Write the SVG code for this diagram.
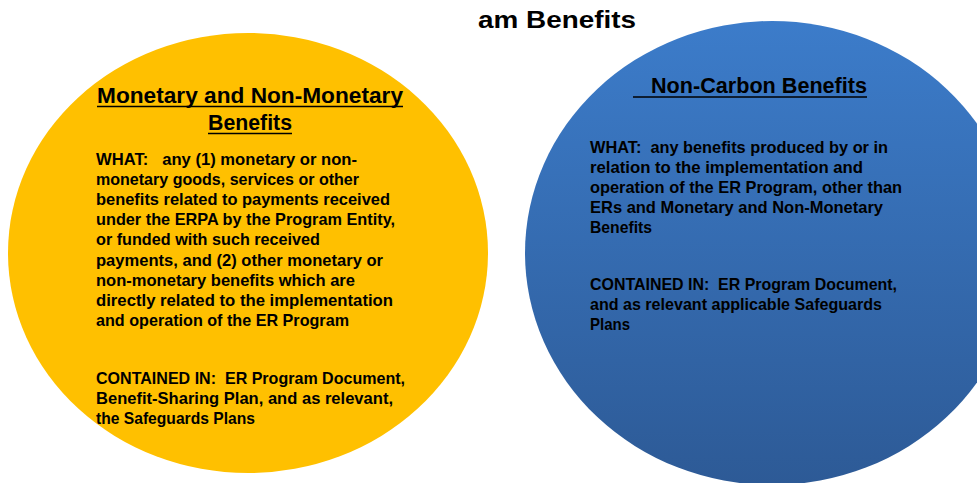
<svg xmlns="http://www.w3.org/2000/svg" width="977" height="483" viewBox="0 0 977 483">
<style>
text{font-family:"Liberation Sans",Arial,sans-serif;font-weight:bold;fill:#000}
.t{font-size:24px}
.h{font-size:22px}
.b{font-size:16.5px}
.ul{stroke:#000;stroke-width:1.5}
</style>
<defs>
<linearGradient id="blueGrad" x1="0" y1="0" x2="0" y2="1">
<stop offset="0" stop-color="#3C7CCA"/>
<stop offset="1" stop-color="#2D5A96"/>
</linearGradient>
</defs>
<rect width="977" height="483" fill="#fff"/>
<text id="title" class="t" x="478" y="28" textLength="158" lengthAdjust="spacingAndGlyphs">am Benefits</text>
<g id="monetary">
<ellipse cx="248" cy="253" rx="240" ry="220" fill="#FFC000"/>
<text class="h" x="97" y="103" textLength="306" lengthAdjust="spacingAndGlyphs">Monetary and Non-Monetary</text>
<line class="ul" x1="97" y1="106.5" x2="403" y2="106.5"/>
<text class="h" x="208" y="130" textLength="84" lengthAdjust="spacingAndGlyphs">Benefits</text>
<line class="ul" x1="208" y1="133.5" x2="292" y2="133.5"/>
<text class="b" x="96" y="165" textLength="261" lengthAdjust="spacingAndGlyphs" xml:space="preserve">WHAT:   any (1) monetary or non-</text>
<text class="b" x="96" y="185" textLength="263" lengthAdjust="spacingAndGlyphs">monetary goods, services or other</text>
<text class="b" x="96" y="205" textLength="294" lengthAdjust="spacingAndGlyphs">benefits related to payments received</text>
<text class="b" x="96" y="225" textLength="299" lengthAdjust="spacingAndGlyphs">under the ERPA by the Program Entity,</text>
<text class="b" x="96" y="245" textLength="224" lengthAdjust="spacingAndGlyphs">or funded with such received</text>
<text class="b" x="96" y="266" textLength="287" lengthAdjust="spacingAndGlyphs">payments, and (2) other monetary or</text>
<text class="b" x="96" y="286" textLength="259" lengthAdjust="spacingAndGlyphs">non-monetary benefits which are</text>
<text class="b" x="96" y="306" textLength="297" lengthAdjust="spacingAndGlyphs">directly related to the implementation</text>
<text class="b" x="96" y="326" textLength="253" lengthAdjust="spacingAndGlyphs">and operation of the ER Program</text>
<text class="b" x="96" y="384" textLength="309" lengthAdjust="spacingAndGlyphs" xml:space="preserve">CONTAINED IN:  ER Program Document,</text>
<text class="b" x="96" y="404" textLength="297" lengthAdjust="spacingAndGlyphs">Benefit-Sharing Plan, and as relevant,</text>
<text class="b" x="96" y="424" textLength="159" lengthAdjust="spacingAndGlyphs">the Safeguards Plans</text>
</g>
<g id="noncarbon">
<ellipse cx="772" cy="253" rx="247" ry="232" fill="url(#blueGrad)"/>
<text class="h" x="651" y="93" textLength="216" lengthAdjust="spacingAndGlyphs">Non-Carbon Benefits</text>
<line class="ul" x1="633" y1="97" x2="867" y2="97"/>
<text class="b" x="590" y="153" textLength="298" lengthAdjust="spacingAndGlyphs" xml:space="preserve">WHAT:  any benefits produced by or in</text>
<text class="b" x="590" y="173" textLength="273" lengthAdjust="spacingAndGlyphs">relation to the implementation and</text>
<text class="b" x="590" y="193" textLength="312" lengthAdjust="spacingAndGlyphs">operation of the ER Program, other than</text>
<text class="b" x="590" y="213" textLength="293" lengthAdjust="spacingAndGlyphs">ERs and Monetary and Non-Monetary</text>
<text class="b" x="590" y="233" textLength="62" lengthAdjust="spacingAndGlyphs">Benefits</text>
<text class="b" x="590" y="290" textLength="307" lengthAdjust="spacingAndGlyphs" xml:space="preserve">CONTAINED IN:  ER Program Document,</text>
<text class="b" x="590" y="310" textLength="292" lengthAdjust="spacingAndGlyphs">and as relevant applicable Safeguards</text>
<text class="b" x="590" y="330" textLength="40" lengthAdjust="spacingAndGlyphs">Plans</text>
</g>
</svg>
